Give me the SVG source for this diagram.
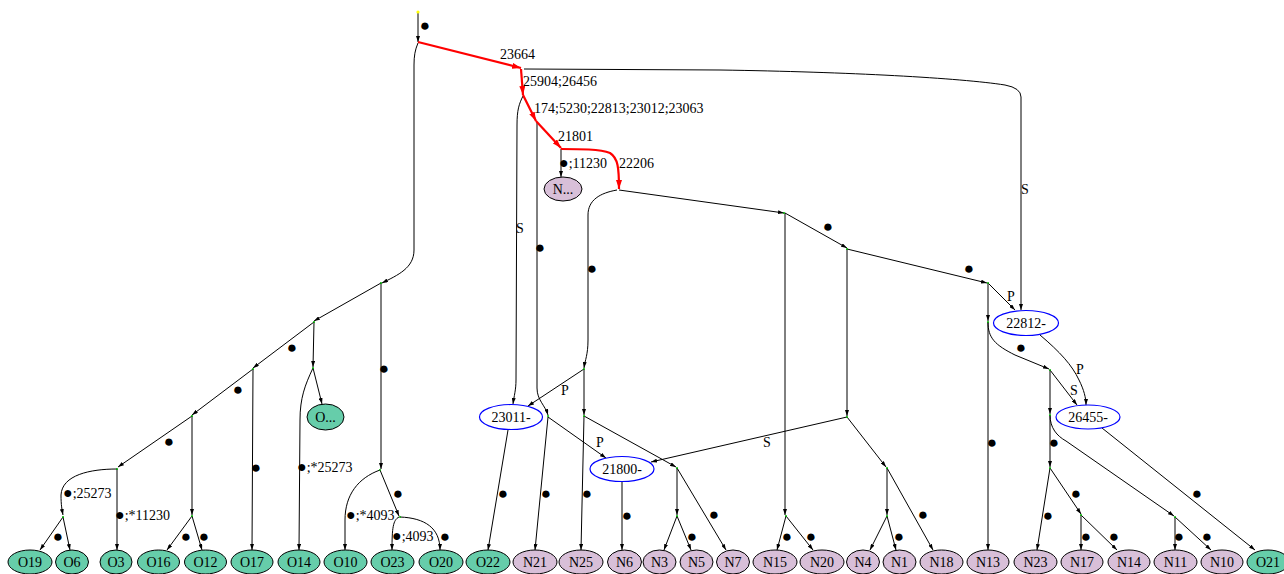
<svg xmlns="http://www.w3.org/2000/svg" width="1284" height="574" viewBox="0 0 1284 574">
<style>
text{font-family:"Liberation Serif","DejaVu Serif",serif;font-size:14px;fill:#000}
.lm{text-anchor:middle}
.d{font-size:17px;text-anchor:middle}
.ds{font-size:16px}
.e{fill:none;stroke:#000;stroke-width:1;marker-end:url(#ah)}
.r{fill:none;stroke:#ff0000;stroke-width:2.2;marker-end:url(#rh)}
.o{fill:#66cdaa;stroke:#000;stroke-width:1}
.n{fill:#d8bfd8;stroke:#000;stroke-width:1}
.b{fill:#fff;stroke:#0000ff;stroke-width:1.2}
.p{fill:#00b000}
</style>
<defs>
<marker id="ah" markerUnits="userSpaceOnUse" viewBox="0 0 6 4" refX="6" refY="2" markerWidth="6" markerHeight="4" orient="auto"><path d="M0,0 L6,2 L0,4 z" fill="#000"/></marker>
<marker id="rh" markerUnits="userSpaceOnUse" viewBox="0 0 9 6" refX="9" refY="3" markerWidth="9" markerHeight="6" orient="auto"><path d="M0,0 L9,3 L0,6 z" fill="#ff0000"/></marker>
</defs>
<rect width="1284" height="574" fill="#fff"/>
<g id="connectors">
<path class="e" d="M418,12 L418,42"/>
<path class="e" d="M418,43 C415,50 414,56 414,65 L414,250 C414,268 398,275 382,283"/>
<path class="e" d="M524,69 L720,70 C850,72 960,78 1005,85 Q1021,88 1021,97 L1021,310"/>
<path class="e" d="M523,96 C519,104 517,110 517,125 L516,380 C516,390 514,396 513,404"/>
<path class="e" d="M537,122 L537,388 C537,400 545,405 548,415"/>
<path class="e" d="M561,149 L561,177"/>
<path class="e" d="M617,190 C600,193 588,200 588,215 L588,340 C588,355 585,360 584,368"/>
<path class="e" d="M619,190 L784,213"/>
<path class="e" d="M785,213 L847,248"/>
<path class="e" d="M847,249 L987,283"/>
<path class="e" d="M785,213 L785,515"/>
<path class="e" d="M847,249 L847,416"/>
<path class="e" d="M988,283 L1015,310"/>
<path class="e" d="M988,283 L988,321"/>
<path class="e" d="M988,322 L988,550"/>
<path class="e" d="M988,322 C988,338 995,345 1015,355 L1049,369"/>
<path class="e" d="M1040,335 C1060,352 1072,365 1079,380 C1084,390 1086,398 1086,405"/>
<path class="e" d="M1050,370 L1077,405"/>
<path class="e" d="M1050,370 L1050,414"/>
<path class="e" d="M1050,415 L1050,467"/>
<path class="e" d="M1050,415 C1050,428 1057,436 1066,441 L1174,516"/>
<path class="e" d="M1050,468 L1037,550"/>
<path class="e" d="M1050,468 L1081,514"/>
<path class="e" d="M1081,515 L1081,550"/>
<path class="e" d="M1081,515 L1117,550"/>
<path class="e" d="M1175,517 L1175,550"/>
<path class="e" d="M1175,517 L1211,550"/>
<path class="e" d="M1102,428 L1255,550"/>
<path class="e" d="M847,417 L651,462"/>
<path class="e" d="M847,417 L886,467"/>
<path class="e" d="M887,468 L887,515"/>
<path class="e" d="M887,468 L933,550"/>
<path class="e" d="M887,516 L870,550"/>
<path class="e" d="M887,516 L896,550"/>
<path class="e" d="M786,516 L777,550"/>
<path class="e" d="M786,516 L813,550"/>
<path class="e" d="M584,369 L528,406"/>
<path class="e" d="M584,369 L584,415"/>
<path class="e" d="M584,416 L581,550"/>
<path class="e" d="M584,416 L676,467"/>
<path class="e" d="M677,468 L677,515"/>
<path class="e" d="M677,468 L726,550"/>
<path class="e" d="M677,516 L664,550"/>
<path class="e" d="M677,516 L691,550"/>
<path class="e" d="M548,417 L606,458"/>
<path class="e" d="M548,417 L535,550"/>
<path class="e" d="M508,430 L488,550"/>
<path class="e" d="M622,482 L622,550"/>
<path class="e" d="M381,283 L381,469"/>
<path class="e" d="M381,283 L314,321"/>
<path class="e" d="M314,322 L313,367"/>
<path class="e" d="M313,368 L322,404"/>
<path class="e" d="M313,368 C305,385 300,398 300,420 L299,550"/>
<path class="e" d="M314,322 L253,368"/>
<path class="e" d="M253,369 L252,550"/>
<path class="e" d="M253,369 L192,415"/>
<path class="e" d="M192,416 L192,515"/>
<path class="e" d="M192,516 L167,550"/>
<path class="e" d="M192,516 L202,550"/>
<path class="e" d="M192,416 L118,467"/>
<path class="e" d="M117,469 L117,550"/>
<path class="e" d="M117,469 C90,469 62,475 61,495 C61,505 62,510 63,515"/>
<path class="e" d="M63,517 L40,550"/>
<path class="e" d="M63,517 L70,550"/>
<path class="e" d="M380,470 C358,478 345,495 345,520 L345,550"/>
<path class="e" d="M380,470 L399,516"/>
<path class="e" d="M399,517 C393,520 392,528 392,550"/>
<path class="e" d="M400,517 C425,518 440,528 440,550"/>
<path class="r" d="M418,42 L521,68"/>
<path class="r" d="M521,69 L523,95"/>
<path class="r" d="M523,95 L536,121"/>
<path class="r" d="M536,121 L561,148"/>
<path class="r" d="M561,149 C580,149 600,149 610,153 C618,158 619,168 619,189"/>
<text class="d" x="425" y="31">●</text>
<text x="500" y="59">23664</text>
<text x="523" y="86">25904;26456</text>
<text x="534" y="113">174;5230;22813;23012;23063</text>
<text x="558" y="141">21801</text>
<text x="559" y="168"><tspan class="ds">●</tspan>;11230</text>
<text x="619" y="168">22206</text>
<text x="1021" y="194">S</text>
<text x="516" y="233">S</text>
<text class="d" x="540" y="253">●</text>
<text class="d" x="592" y="274">●</text>
<text x="561" y="395">P</text>
<text x="596" y="447">P</text>
<text x="763" y="447">S</text>
<text class="d" x="828" y="232">●</text>
<text class="d" x="969" y="274">●</text>
<text x="1007" y="301">P</text>
<text class="d" x="1021" y="353">●</text>
<text x="1076" y="374">P</text>
<text x="1070" y="395">S</text>
<text class="d" x="992" y="448">●</text>
<text class="d" x="1054" y="448">●</text>
<text class="d" x="1076" y="499">●</text>
<text class="d" x="1197" y="499">●</text>
<text class="d" x="1048" y="521">●</text>
<text class="d" x="1086" y="542">●</text>
<text class="d" x="1114" y="542">●</text>
<text class="d" x="1179" y="542">●</text>
<text class="d" x="1207" y="542">●</text>
<text class="d" x="714" y="520">●</text>
<text class="d" x="692" y="542">●</text>
<text class="d" x="787" y="542">●</text>
<text class="d" x="811" y="542">●</text>
<text class="d" x="899" y="542">●</text>
<text class="d" x="923" y="520">●</text>
<text class="d" x="398" y="499">●</text>
<text x="346" y="520"><tspan class="ds">●</tspan>;*4093</text>
<text x="392" y="541"><tspan class="ds">●</tspan>;4093</text>
<text class="d" x="445" y="542">●</text>
<text class="d" x="503" y="499">●</text>
<text class="d" x="546" y="499">●</text>
<text class="d" x="587" y="499">●</text>
<text class="d" x="627" y="521">●</text>
<text class="d" x="169" y="447">●</text>
<text x="63" y="498"><tspan class="ds">●</tspan>;25273</text>
<text x="115" y="520"><tspan class="ds">●</tspan>;*11230</text>
<text class="d" x="58" y="542">●</text>
<text class="d" x="186" y="542">●</text>
<text class="d" x="204" y="542">●</text>
<text class="d" x="256" y="473">●</text>
<text x="297" y="472"><tspan class="ds">●</tspan>;*25273</text>
<text class="d" x="292" y="353">●</text>
<text class="d" x="238" y="395">●</text>
<text class="d" x="384" y="374">●</text>
</g>
<g id="points">
<circle cx="418" cy="12" r="1.6" fill="#ffff00"/>
<circle class="p" cx="784" cy="213" r="1"/><circle class="p" cx="847" cy="249" r="1"/>
<circle class="p" cx="988" cy="283" r="1"/><circle class="p" cx="988" cy="322" r="1"/>
<circle class="p" cx="1050" cy="370" r="1"/><circle class="p" cx="1050" cy="415" r="1"/>
<circle class="p" cx="1050" cy="468" r="1"/><circle class="p" cx="1081" cy="515" r="1"/>
<circle class="p" cx="1175" cy="517" r="1"/><circle class="p" cx="847" cy="417" r="1"/>
<circle class="p" cx="887" cy="468" r="1"/><circle class="p" cx="887" cy="516" r="1"/>
<circle class="p" cx="786" cy="516" r="1"/><circle class="p" cx="584" cy="369" r="1"/>
<circle class="p" cx="584" cy="416" r="1"/><circle class="p" cx="677" cy="468" r="1"/>
<circle class="p" cx="677" cy="516" r="1"/><circle class="p" cx="548" cy="416" r="1"/>
<circle class="p" cx="381" cy="283" r="1"/><circle class="p" cx="380" cy="470" r="1"/>
<circle class="p" cx="400" cy="517" r="1"/><circle class="p" cx="314" cy="322" r="1"/>
<circle class="p" cx="313" cy="368" r="1"/><circle class="p" cx="253" cy="369" r="1"/>
<circle class="p" cx="192" cy="416" r="1"/><circle class="p" cx="192" cy="516" r="1"/>
<circle class="p" cx="117" cy="469" r="1"/><circle class="p" cx="63" cy="517" r="1"/>
</g>
<g id="node-Ndots"><ellipse class="n" cx="563" cy="189" rx="19" ry="12"/><text class="lm" x="563" y="194">N...</text></g>
<g id="node-Odots"><ellipse class="o" cx="325.5" cy="417" rx="18.5" ry="13"/><text class="lm" x="325.5" y="422">O...</text></g>
<g id="node-23011"><ellipse class="b" cx="511" cy="417" rx="31.5" ry="12.5"/><text class="lm" x="511" y="422">23011-</text></g>
<g id="node-21800"><ellipse class="b" cx="622" cy="469" rx="32" ry="12.5"/><text class="lm" x="622" y="474">21800-</text></g>
<g id="node-22812"><ellipse class="b" cx="1026" cy="323" rx="32.5" ry="12.5"/><text class="lm" x="1026" y="328">22812-</text></g>
<g id="node-26455"><ellipse class="b" cx="1088" cy="417" rx="32" ry="12"/><text class="lm" x="1088" y="422">26455-</text></g>
<g id="node-O19"><ellipse class="o" cx="30" cy="562" rx="22" ry="12"/><text class="lm" x="30" y="567">O19</text></g>
<g id="node-O6"><ellipse class="o" cx="72" cy="562" rx="16.5" ry="12"/><text class="lm" x="72" y="567">O6</text></g>
<g id="node-O3"><ellipse class="o" cx="116" cy="562" rx="16" ry="12"/><text class="lm" x="116" y="567">O3</text></g>
<g id="node-O16"><ellipse class="o" cx="158.5" cy="562" rx="21" ry="12"/><text class="lm" x="158.5" y="567">O16</text></g>
<g id="node-O12"><ellipse class="o" cx="205.5" cy="562" rx="21" ry="12"/><text class="lm" x="205.5" y="567">O12</text></g>
<g id="node-O17"><ellipse class="o" cx="252" cy="562" rx="21" ry="12"/><text class="lm" x="252" y="567">O17</text></g>
<g id="node-O14"><ellipse class="o" cx="299" cy="562" rx="21" ry="12"/><text class="lm" x="299" y="567">O14</text></g>
<g id="node-O10"><ellipse class="o" cx="345.5" cy="562" rx="21.5" ry="12"/><text class="lm" x="345.5" y="567">O10</text></g>
<g id="node-O23"><ellipse class="o" cx="392.5" cy="562" rx="21.5" ry="12"/><text class="lm" x="392.5" y="567">O23</text></g>
<g id="node-O20"><ellipse class="o" cx="441" cy="562" rx="22" ry="12"/><text class="lm" x="441" y="567">O20</text></g>
<g id="node-O22"><ellipse class="o" cx="488" cy="562" rx="22" ry="12"/><text class="lm" x="488" y="567">O22</text></g>
<g id="node-N21"><ellipse class="n" cx="535" cy="562" rx="22" ry="12"/><text class="lm" x="535" y="567">N21</text></g>
<g id="node-N25"><ellipse class="n" cx="581" cy="562" rx="22" ry="12"/><text class="lm" x="581" y="567">N25</text></g>
<g id="node-N6"><ellipse class="n" cx="624.5" cy="562" rx="17" ry="12"/><text class="lm" x="624.5" y="567">N6</text></g>
<g id="node-N3"><ellipse class="n" cx="659.5" cy="562" rx="16.5" ry="12"/><text class="lm" x="659.5" y="567">N3</text></g>
<g id="node-N5"><ellipse class="n" cx="696.5" cy="562" rx="16.5" ry="12"/><text class="lm" x="696.5" y="567">N5</text></g>
<g id="node-N7"><ellipse class="n" cx="733" cy="562" rx="16.5" ry="12"/><text class="lm" x="733" y="567">N7</text></g>
<g id="node-N15"><ellipse class="n" cx="775" cy="562" rx="22" ry="12"/><text class="lm" x="775" y="567">N15</text></g>
<g id="node-N20"><ellipse class="n" cx="822" cy="562" rx="22" ry="12"/><text class="lm" x="822" y="567">N20</text></g>
<g id="node-N4"><ellipse class="n" cx="863" cy="562" rx="16.5" ry="12"/><text class="lm" x="863" y="567">N4</text></g>
<g id="node-N1"><ellipse class="n" cx="899.5" cy="562" rx="16.5" ry="12"/><text class="lm" x="899.5" y="567">N1</text></g>
<g id="node-N18"><ellipse class="n" cx="941.5" cy="562" rx="21.5" ry="12"/><text class="lm" x="941.5" y="567">N18</text></g>
<g id="node-N13"><ellipse class="n" cx="988" cy="562" rx="21" ry="12"/><text class="lm" x="988" y="567">N13</text></g>
<g id="node-N23"><ellipse class="n" cx="1035.5" cy="562" rx="21.5" ry="12"/><text class="lm" x="1035.5" y="567">N23</text></g>
<g id="node-N17"><ellipse class="n" cx="1082" cy="562" rx="21" ry="12"/><text class="lm" x="1082" y="567">N17</text></g>
<g id="node-N14"><ellipse class="n" cx="1129" cy="562" rx="21" ry="12"/><text class="lm" x="1129" y="567">N14</text></g>
<g id="node-N11"><ellipse class="n" cx="1175.5" cy="562" rx="21.5" ry="12"/><text class="lm" x="1175.5" y="567">N11</text></g>
<g id="node-N10"><ellipse class="n" cx="1222" cy="562" rx="21" ry="12"/><text class="lm" x="1222" y="567">N10</text></g>
<g id="node-O21"><ellipse class="o" cx="1268" cy="562" rx="21" ry="12"/><text class="lm" x="1268" y="567">O21</text></g>
</svg>
